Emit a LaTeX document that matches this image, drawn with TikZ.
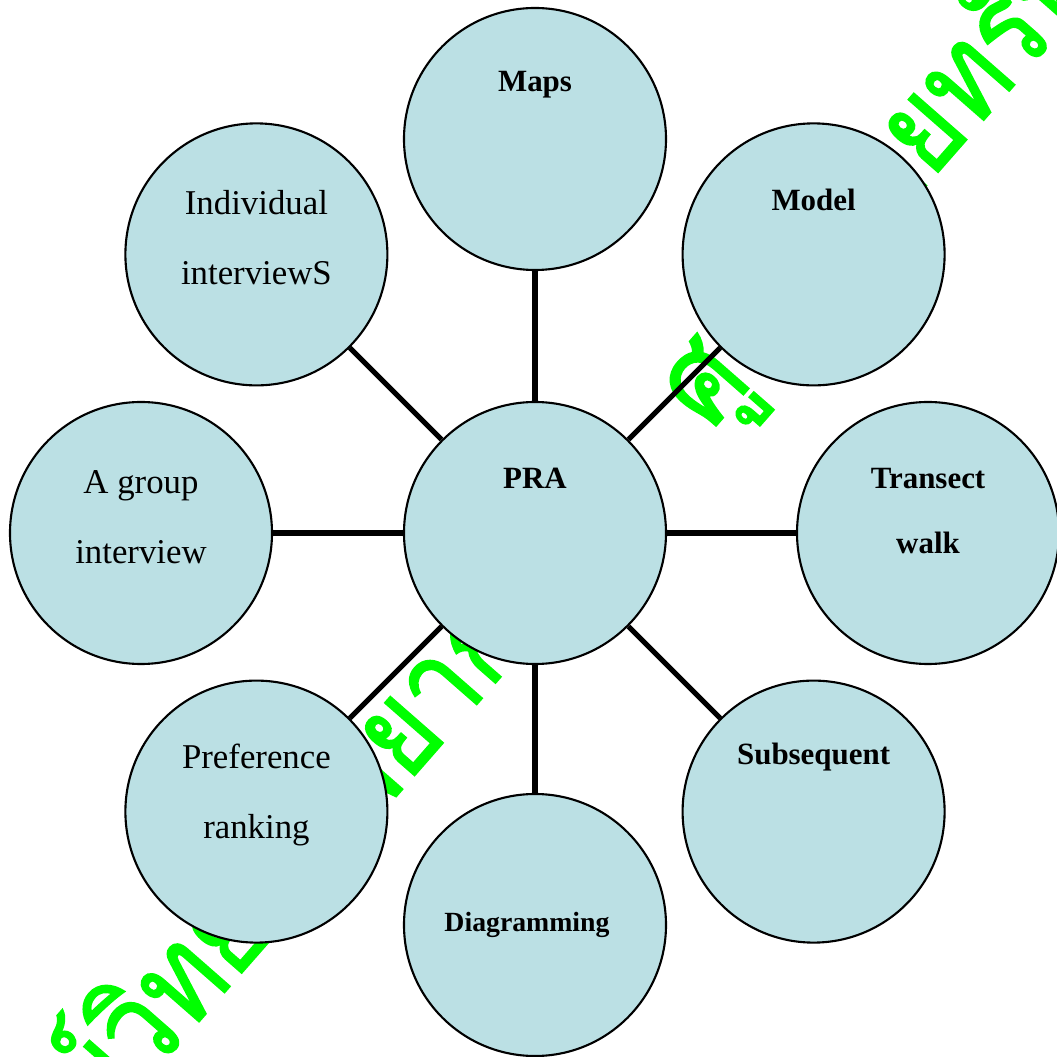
\documentclass[tikz,border=0pt]{standalone}
\usepackage{fontspec}
\setmainfont{Liberation Serif}
\newfontfamily\thaifont[Script=Thai, FakeStretch=0.85, FakeBold=1.2]{Loma}
\usetikzlibrary{positioning}
\definecolor{bubblefill}{RGB}{187,224,228}
\definecolor{wmgreen}{RGB}{0,255,0}

\begin{document}
\begin{tikzpicture}[
  bubble/.style={circle, draw, line width=0.6pt, fill=bubblefill, minimum size=2.62cm, inner sep=0pt},
  spoke/.style={line width=1.5pt},
  hd/.style={font=\bfseries\fontsize{8.8}{18.5}\selectfont, align=center, inner sep=0pt},
  txt/.style={font=\fontsize{9.9}{19.9}\selectfont, align=center, inner sep=0pt},
  wm/.style={text=wmgreen, font=\thaifont\fontsize{36}{36}\selectfont, rotate=48.8, inner sep=0pt}
]
\useasboundingbox (-5.35,-5.24) rectangle (5.22,5.33);
\clip (-5.35,-5.24) rectangle (5.22,5.33);

\node[wm, anchor=east] (wm-a) at (0.06,-0.39) {ศูนย์วิทยทรัพยากร};
\node[wm, anchor=west] (wm-b) at (1.45,1.25) {ศูนย์วิทยทรัพยากร};

\node[bubble] (pra) at (0,0) {};
\node[bubble] (maps) at (90:3.94) {};
\node[bubble] (model) at (45:3.94) {};
\node[bubble] (transect) at (0:3.93) {};
\node[bubble] (subseq) at (-45:3.94) {};
\node[bubble] (diagram) at (-90:3.92) {};
\node[bubble] (pref) at (-135:3.94) {};
\node[bubble] (group) at (180:3.94) {};
\node[bubble] (indiv) at (135:3.94) {};

\foreach \n in {maps,model,transect,subseq,diagram,pref,group,indiv}
  \draw[spoke] (pra) -- (\n);

\node[hd] (pra-t) at ([yshift=0.55cm]pra) {PRA};
\node[hd] (maps-t) at ([yshift=0.54cm]maps) {Maps};
\node[hd] (model-t) at ([yshift=0.54cm]model) {Model};
\node[hd] (transect-t) at ([yshift=0.22cm]transect) {Transect\\walk};
\node[hd] (subseq-t) at ([yshift=0.55cm]subseq) {Subsequent};
\node[hd, font=\bfseries\fontsize{7.9}{10}\selectfont] (diagram-t) at ([xshift=-0.08cm]diagram) {Diagramming};
\node[txt] (pref-t) at ([yshift=0.17cm]pref) {Preference\\ranking};
\node[txt] (group-t) at ([yshift=0.16cm]group) {A group\\interview};
\node[txt] (indiv-t) at ([yshift=0.17cm]indiv) {Individual\\interviewS};
\end{tikzpicture}
\end{document}
